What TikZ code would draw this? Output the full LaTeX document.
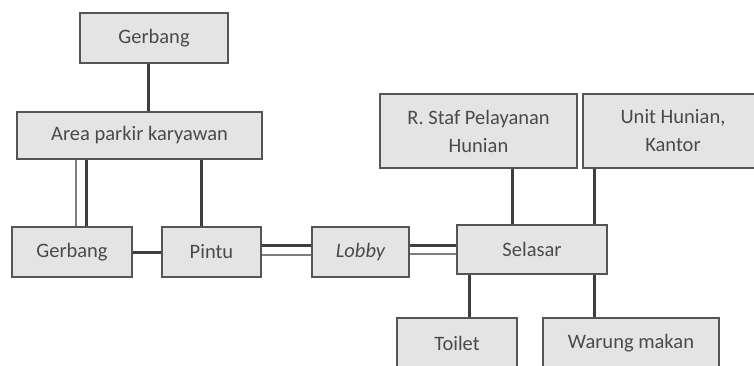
\documentclass[tikz,border=0pt]{standalone}
\usepackage{fontspec}
\setmainfont{Carlito}
\begin{document}
\begin{tikzpicture}[x=1bp,y=-1bp,
  box/.style={draw=boxline, fill=boxfill, line width=1.6bp, rectangle,
    inner sep=0pt, align=center, text=txt,
    font=\fontsize{20.5bp}{28bp}\selectfont},
  link/.style={draw=linkdark, line width=3bp},
  linklight/.style={draw=linklight, line width=2.5bp}]
\definecolor{boxfill}{HTML}{E4E4E4}
\definecolor{boxline}{HTML}{555555}
\definecolor{txt}{HTML}{4A4A4A}
\definecolor{linkdark}{HTML}{3E3E3E}
\definecolor{linklight}{HTML}{7E7E7E}
\useasboundingbox (0,0) rectangle (754,365);

% boxes
\node[box, minimum width=148bp, minimum height=50bp] (g1) at (154,38) {Gerbang};
\node[box, minimum width=245bp, minimum height=47bp] (area) at (139.5,135.5) {Area parkir karyawan};
\node[box, minimum width=120bp, minimum height=50bp] (g2) at (72,252) {Gerbang};
\node[box, minimum width=99bp, minimum height=50bp] (pintu) at (211.5,252) {Pintu};
\node[box, minimum width=97bp, minimum height=50bp] (lobby) at (360.5,252) {\itshape Lobby};
\node[box, minimum width=150bp, minimum height=49bp] (selasar) at (532,249.5) {Selasar};
\node[box, minimum width=197bp, minimum height=74bp] (staf) at (478.5,131) {R. Staf Pelayanan\\Hunian};
\node[box, minimum width=180bp, minimum height=74bp] (unit) at (673,131) {Unit Hunian,\\Kantor};
\node[box, minimum width=120bp, minimum height=50bp] (toilet) at (457,343) {Toilet};
\node[box, minimum width=176bp, minimum height=50bp] (warung) at (631,343) {Warung makan};

% single connectors
\draw[link] ([xshift=-6bp]g1.south) -- ([xshift=-6bp]g1.south |- area.north);
\draw[link] ([xshift=-10.5bp]pintu.north) -- ([xshift=-10.5bp]pintu.north |- area.south);
\draw[link] (g2.east) -- (pintu.west);
\draw[link] ([xshift=33.5bp]staf.south) -- ([xshift=33.5bp]staf.south |- selasar.north);
\draw[link] ([xshift=-79bp]unit.south) -- ([xshift=-79bp]unit.south |- selasar.north);
\draw[link] ([xshift=12bp]toilet.north) -- ([xshift=12bp]toilet.north |- selasar.south);
\draw[link] ([xshift=-37bp]warung.north) -- ([xshift=-37bp]warung.north |- selasar.south);

% double connectors
\draw[linklight] ([xshift=4bp]g2.north) -- ([xshift=4bp]g2.north |- area.south);
\draw[link] ([xshift=14bp]g2.north) -- ([xshift=14bp]g2.north |- area.south);
\draw[link] ([yshift=7bp]pintu.east) -- ([yshift=7bp]pintu.east -| lobby.west);
\draw[linklight] ([yshift=-3bp]pintu.east) -- ([yshift=-3bp]pintu.east -| lobby.west);
\draw[link] ([yshift=7bp]lobby.east) -- ([yshift=7bp]lobby.east -| selasar.west);
\draw[linklight] ([yshift=-2bp]lobby.east) -- ([yshift=-2bp]lobby.east -| selasar.west);
\end{tikzpicture}
\end{document}
